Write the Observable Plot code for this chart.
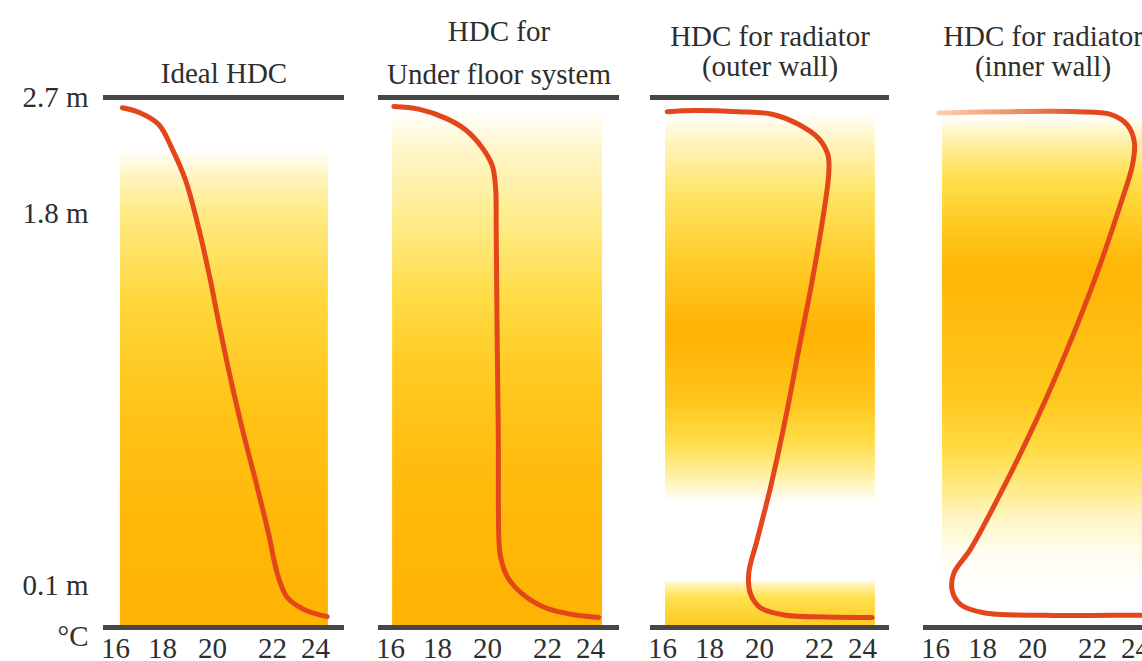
<!DOCTYPE html>
<html><head><meta charset="utf-8">
<script src="https://cdn.jsdelivr.net/npm/d3@7"></script>
<script src="https://cdn.jsdelivr.net/npm/@observablehq/plot@0.6"></script>
<style>
html,body{margin:0;padding:0;background:#fff;overflow:hidden;}
#wrap{position:relative;width:1142px;height:661px;overflow:hidden;background:#fff;}
#wrap svg{position:absolute;top:0;}
</style></head><body><div id="wrap"></div>
<script>
// ---- data ----
const tempTicks = [16, 18, 20, 22, 24];           // °C tick labels
const heightTicks = [0.1, 1.8, 2.7];              // m tick labels
const panelTitles = ["Ideal HDC", "HDC for\nUnder floor system", "HDC for radiator\n(outer wall)", "HDC for radiator\n(inner wall)"];
const hasCeilingLine = [true, true, true, false];

// heat distribution curves (temperature °C vs height m)
const idealTemp   = [16.29, 17.06, 17.84, 18.39, 18.92, 19.39, 19.85, 20.27, 20.66, 21.04, 21.49, 21.88, 22.22, 22.68, 23.46, 24.54];
const idealHeight = [2.62, 2.58, 2.49, 2.30, 2.06, 1.76, 1.53, 1.26, 1.01, 0.79, 0.55, 0.33, 0.156, 0.072, 0.043, 0.026];

const floorTemp   = [16.14, 17.20, 18.32, 19.12, 19.79, 20.16, 20.27, 20.29, 20.32, 20.36, 20.38, 20.43, 20.66, 21.16, 21.93, 23.15, 24.39];
const floorHeight = [2.63, 2.61, 2.54, 2.45, 2.31, 2.17, 2.00, 1.73, 1.26, 0.79, 0.31, 0.235, 0.14, 0.08, 0.047, 0.031, 0.024];

const outerTemp   = [16.2, 17.40, 19.17, 20.42, 21.31, 21.98, 22.40, 22.43, 22.20, 21.76, 21.31, 20.87, 20.37, 19.91, 19.57, 19.64, 20.03, 20.87, 22.28, 24.45];
const outerHeight = [2.59, 2.60, 2.59, 2.57, 2.49, 2.38, 2.25, 2.11, 1.81, 1.495, 1.18, 0.865, 0.55, 0.31, 0.156, 0.08, 0.047, 0.029, 0.025, 0.024];

const innerTemp   = [16.14, 19.12, 21.49, 22.84, 23.61, 23.95, 23.85, 23.30, 22.22, 21.16, 20.16, 18.85, 17.49, 16.78, 16.71, 17.06, 18.05, 20.38, 22.84, 24.39];
const innerHeight = [2.58, 2.59, 2.59, 2.57, 2.49, 2.35, 2.17, 1.87, 1.53, 1.18, 0.865, 0.55, 0.266, 0.156, 0.088, 0.055, 0.035, 0.029, 0.029, 0.029];

// warmth shading: heights and relative intensity (0 = none, 1 = strongest)
const idealShadeHeight = [2.29, 2.10, 1.80, 1.40, 0.945, 0.49, 0.0];
const idealShadeLevel  = [0, 0.22, 0.38, 0.60, 0.78, 0.90, 0.98];
const floorShadeHeight = [2.60, 2.29, 1.73, 1.42, 1.10, 0.63, 0.0];
const floorShadeLevel  = [0, 0.20, 0.38, 0.55, 0.72, 0.88, 0.98];
const outerShadeHeight = [2.58, 2.37, 1.955, 1.576, 1.261, 0.946, 0.763, 0.626, 0.488, 0.466, 0.123, 0.105, 0.071, 0.0];
const outerShadeLevel  = [0, 0.22, 0.45, 0.70, 0.98, 0.78, 0.55, 0.35, 0.03, 0, 0, 0.25, 0.50, 0.75];
const innerShadeHeight = [2.56, 2.35, 2.09, 1.73, 1.544, 1.261, 0.946, 0.708, 0.548, 0.392, 0.233, 0.088, 0.0];
const innerShadeLevel  = [0, 0.30, 0.50, 0.75, 0.95, 0.85, 0.75, 0.55, 0.38, 0.20, 0.05, 0, 0];
const shadeFromTemp = [16.21, 16.09, 16.13, 16.3];
const shadeToTemp   = [24.6, 24.56, 24.6, 24.8];

// ---- rendering ----
const panels = [
  {temp: idealTemp, height: idealHeight, sh: idealShadeHeight, sl: idealShadeLevel},
  {temp: floorTemp, height: floorHeight, sh: floorShadeHeight, sl: floorShadeLevel},
  {temp: outerTemp, height: outerHeight, sh: outerShadeHeight, sl: outerShadeLevel},
  {temp: innerTemp, height: innerHeight, sh: innerShadeHeight, sl: innerShadeLevel}
];

const layout = [
  {left: 0,   marginLeft: 103, frame: 241, marginRight: 0},
  {left: 358, marginLeft: 20,  frame: 241, marginRight: 10},
  {left: 630, marginLeft: 20,  frame: 239, marginRight: 10},
  {left: 903, marginLeft: 20,  frame: 239, marginRight: 0}
];
const tickOffsets = [12, 59, 109, 169, 212];
const titleDy = [-15, -14, -22, -22];
const titleLineHeight = [1.1, 1.48, 1.03, 1.03];
const CURVE_RED = "#E4461C";

const shadeColor = d3.scaleLinear()
  .domain([0, 0.25, 0.5, 0.75, 1])
  .range(["#FFFFFF", "#FFF4BC", "#FFE150", "#FFC81E", "#FFB000"])
  .interpolate(d3.interpolateRgb)
  .clamp(true);

const wrap = document.getElementById("wrap");
const FONT = "'Liberation Serif', 'Times New Roman', serif";

panels.forEach((p, i) => {
  const L = layout[i];
  const width = L.marginLeft + L.frame + L.marginRight;
  const curve = p.temp.map((t, k) => ({t, h: p.height[k]}));
  const gid = "shade" + i;
  const fid = "fade" + i;
  const topH = p.sh[0];
  const marks = [
    Plot.rect([{x1: shadeFromTemp[i], x2: shadeToTemp[i], y1: 0, y2: topH}],
      {x1: "x1", x2: "x2", y1: "y1", y2: "y2", fill: `url(#${gid})`}),
    Plot.line(curve, {x: "t", y: "h", curve: "catmull-rom", stroke: i === 3 ? `url(#${fid})` : CURVE_RED, strokeWidth: 5, strokeLinecap: "round", strokeLinejoin: "round"}),
    Plot.ruleY([0], {stroke: "#474747", strokeWidth: 5}),
    Plot.axisX({ticks: tempTicks, tickSize: 0, tickPadding: 10, label: null, tickFormat: d => String(d)}),
    Plot.text([panelTitles[i]], {text: d => d, frameAnchor: "top", lineAnchor: "bottom", dy: titleDy[i], lineHeight: titleLineHeight[i], fill: "#2e2e2e"})
  ];
  if (hasCeilingLine[i]) marks.push(Plot.ruleY([2.7], {stroke: "#474747", strokeWidth: 5}));
  if (i === 0) {
    marks.push(Plot.axisY({ticks: heightTicks, tickSize: 0, tickPadding: 15, label: null, tickFormat: d => `${d} m`}));
    marks.push(Plot.text(["°C"], {text: d => d, frameAnchor: "bottom-left", textAnchor: "end", dx: -15, dy: 18, fill: "#2e2e2e"}));
  }
  const plot = Plot.plot({
    width,
    height: 661,
    marginLeft: L.marginLeft,
    marginRight: L.marginRight,
    marginTop: 97,
    marginBottom: 34,
    x: {type: "linear", domain: tempTicks, range: tickOffsets.map(o => L.marginLeft + o), axis: null},
    y: {type: "linear", domain: [0, 0.1, 1.8, 2.7], range: [627, 585, 213, 97], axis: null},
    style: {fontFamily: FONT, fontSize: "29px", color: "#2e2e2e", background: "transparent", overflow: "visible"},
    marks
  });
  plot.style.left = L.left + "px";
  // gradient definitions using the plot's own scales
  const xs = plot.scale("x");
  const ys = plot.scale("y");
  const yTop = ys.apply(topH), yBot = ys.apply(0);
  const svg = d3.select(plot);
  const defs = svg.insert("defs", ":first-child");
  const grad = defs.append("linearGradient")
    .attr("id", gid)
    .attr("gradientUnits", "userSpaceOnUse")
    .attr("x1", 0).attr("x2", 0)
    .attr("y1", yTop).attr("y2", yBot);
  p.sh.forEach((h, k) => {
    grad.append("stop")
      .attr("offset", ((ys.apply(h) - yTop) / (yBot - yTop)).toFixed(4))
      .attr("stop-color", shadeColor(p.sl[k]));
  });
  // faded start of the curve (inner-wall panel)
  const fade = defs.append("radialGradient")
    .attr("id", fid)
    .attr("gradientUnits", "userSpaceOnUse")
    .attr("cx", xs.apply(p.temp[0])).attr("cy", ys.apply(p.height[0]))
    .attr("r", 150);
  fade.append("stop").attr("offset", 0).attr("stop-color", "#FBD2B4");
  fade.append("stop").attr("offset", 0.55).attr("stop-color", "#EE8A5C");
  fade.append("stop").attr("offset", 1).attr("stop-color", CURVE_RED);
  wrap.appendChild(plot);
});
</script></body></html>
